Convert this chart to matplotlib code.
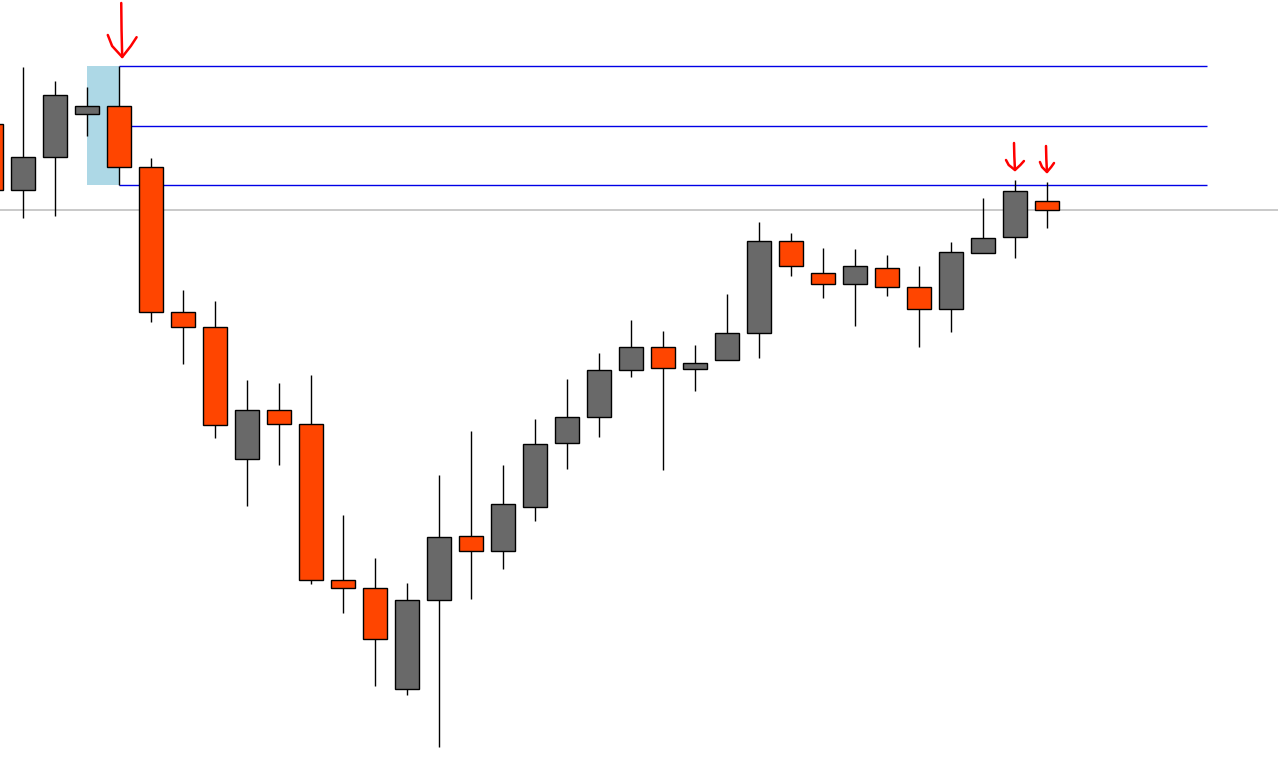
import matplotlib
matplotlib.use("Agg")
import matplotlib.pyplot as plt
from matplotlib.patches import Rectangle

# OHLC per candle (index -1 is the partial one on the left edge)
idx = list(range(-1, 33))
opens = [676, 610, 643, 686, 694, 633, 488, 473, 341, 390, 376, 220, 212, 111, 200,
         264, 249, 293, 357, 383, 430, 453, 431, 440, 467, 559, 527, 516, 532, 513,
         491, 547, 563, 599]
highs = [680, 733, 719, 713, 734, 642, 510, 499, 420, 417, 425, 285, 242, 217, 325,
         369, 335, 381, 421, 447, 480, 469, 455, 506, 578, 567, 552, 551, 545, 534,
         558, 602, 620, 618]
lows = [605, 582, 584, 664, 615, 478, 436, 362, 294, 335, 216, 187, 114, 105, 53,
        201, 231, 279, 331, 363, 423, 330, 409, 440, 442, 524, 502, 474, 504, 453,
        468, 547, 542, 572]
closes = [610, 643, 705, 694, 633, 488, 473, 375, 390, 376, 220, 212, 161, 200, 263,
          249, 296, 356, 383, 430, 453, 432, 437, 467, 559, 534, 516, 534, 513, 491,
          548, 562, 609, 590]

# horizontal levels and the highlighted zone
zone_levels = [734, 674, 615]
last_price = 590
zone_start, zone_end, lines_end = 2, 3, 37
arrow_marks = [3.1, 31.0, 32.0]

fig = plt.figure(figsize=(12.78, 7.65), dpi=100)
ax = fig.add_axes([0, 0, 1, 1])
ax.set_xlim(-0.71875, 39.22)
ax.set_ylim(35, 800)
ax.axis("off")

ax.axhline(last_price, color="#c0c0c0", lw=1.2, zorder=1)
ax.add_patch(Rectangle((zone_start, zone_levels[2]), zone_end - zone_start,
                       zone_levels[0] - zone_levels[2], facecolor="#add8e6",
                       edgecolor="none", zorder=1))
for lvl in zone_levels:
    ax.hlines(lvl, zone_end, lines_end, color="#0000e6", lw=1.0, zorder=1)

w = 0.75
for i, o, h, l, c in zip(idx, opens, highs, lows, closes):
    col = "#696969" if c >= o else "#ff4500"
    ax.vlines(i, l, h, color="black", lw=1.0, zorder=2)
    ax.add_patch(Rectangle((i - w / 2, min(o, c)), w, max(abs(c - o), 1),
                           facecolor=col, edgecolor="black", lw=1.0, zorder=3))

# hand-drawn red arrows
def arrow(x, top, tip, head_dx, head_dy):
    ax.plot([x - 0.03, x - 0.02, x], [top, (top + tip) / 2, tip], color="red", lw=1.8,
            solid_capstyle="round", zorder=4)
    ax.plot([x - head_dx, x - head_dx * 0.7, x, x + head_dx * 0.6, x + head_dx],
            [tip + head_dy, tip + head_dy * 0.5, tip, tip + head_dy * 0.5, tip + head_dy * 0.9],
            color="red", lw=1.8, solid_capstyle="round", zorder=4)

arrow(arrow_marks[0], 797, 743, 0.45, 22)
arrow(arrow_marks[1], 657, 630, 0.28, 10)
arrow(arrow_marks[2], 654, 628, 0.22, 10)

fig.savefig("out.png", dpi=100, facecolor="white")
